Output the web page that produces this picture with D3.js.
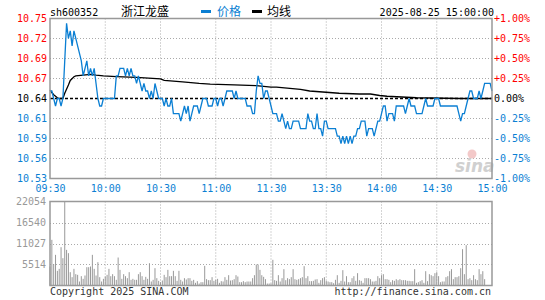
<!DOCTYPE html>
<meta charset="utf-8">
<head>
<title>sh600352 浙江龙盛</title>
</head>
<style>
body { margin: 0; background: #fff; }
text { font-family: "DejaVu Sans Mono", monospace; font-size: 10px; }
.cjk { font-family: "Noto Sans CJK SC", sans-serif; font-size: 12px; }
</style>
<body>

<svg id="chart" width="545" height="300"></svg>

<script src="https://d3js.org/d3.v7.min.js"></script>
<script>
var prevClose = 10.64

// x axis labels (minute index from 09:30)
var timeLabels = ["09:30", "10:00", "10:30", "11:00", "11:30", "13:30", "14:00", "14:30", "15:00"]
var timeMinutes = [0, 30, 60, 90, 120, 150, 180, 210, 240]

// price axis labels, left and right
var pctValues = [1, 0.75, 0.5, 0.25, 0, -0.25, -0.5, -0.75, -1]
var priceLabels = ["10.75", "10.72", "10.69", "10.67", "10.64", "10.61", "10.59", "10.56", "10.53"]
var pctLabels = ["+1.00%", "+0.75%", "+0.50%", "+0.25%", "0.00%", "-0.25%", "-0.50%", "-0.75%", "-1.00%"]

// volume axis
var volMax = 22054
var volTicks = [22054, 16540, 11027, 5514]

// minute prices 09:30 .. 11:30, 13:01 .. 15:00
var price = [
  10.65, 10.65, 10.64, 10.63, 10.64, 10.64, 10.63, 10.64, 10.69, 10.74,
  10.72, 10.73, 10.71, 10.73, 10.72, 10.71, 10.70, 10.69, 10.67, 10.68,
  10.69, 10.67, 10.68, 10.67, 10.68, 10.66, 10.64, 10.63, 10.63, 10.64,
  10.64, 10.64, 10.64, 10.64, 10.64, 10.64, 10.67, 10.67, 10.68, 10.68,
  10.68, 10.67, 10.68, 10.67, 10.68, 10.67, 10.67, 10.66, 10.67, 10.66,
  10.65, 10.66, 10.65, 10.65, 10.64, 10.65, 10.64, 10.66, 10.65, 10.64,
  10.64, 10.64, 10.63, 10.64, 10.63, 10.63, 10.64, 10.62, 10.62, 10.62,
  10.62, 10.61, 10.62, 10.63, 10.62, 10.63, 10.61, 10.62, 10.63, 10.63,
  10.63, 10.62, 10.63, 10.64, 10.64, 10.64, 10.63, 10.63, 10.63, 10.64,
  10.64, 10.63, 10.64, 10.64, 10.63, 10.64, 10.65, 10.65, 10.65, 10.65,
  10.64, 10.65, 10.64, 10.64, 10.64, 10.64, 10.64, 10.63, 10.63, 10.63,
  10.62, 10.62, 10.65, 10.67, 10.66, 10.66, 10.64, 10.65, 10.65, 10.64,
  10.63, 10.62, 10.62, 10.62, 10.61, 10.61, 10.62, 10.61, 10.60, 10.61,
  10.60, 10.60, 10.61, 10.61, 10.61, 10.61, 10.60, 10.60, 10.60, 10.60,
  10.62, 10.61, 10.61, 10.60, 10.60, 10.62, 10.60, 10.60, 10.59, 10.61,
  10.61, 10.60, 10.60, 10.60, 10.60, 10.60, 10.59, 10.59, 10.58, 10.59,
  10.58, 10.59, 10.58, 10.59, 10.58, 10.59, 10.59, 10.60, 10.60, 10.61,
  10.61, 10.61, 10.59, 10.60, 10.60, 10.60, 10.59, 10.60, 10.61, 10.61,
  10.62, 10.63, 10.63, 10.61, 10.62, 10.62, 10.62, 10.61, 10.63, 10.63,
  10.63, 10.63, 10.63, 10.62, 10.63, 10.64, 10.63, 10.63, 10.63, 10.62,
  10.62, 10.62, 10.62, 10.63, 10.64, 10.63, 10.63, 10.63, 10.63, 10.64,
  10.64, 10.64, 10.63, 10.63, 10.63, 10.63, 10.63, 10.63, 10.63, 10.63,
  10.63, 10.63, 10.62, 10.61, 10.62, 10.62, 10.63, 10.64, 10.65, 10.65,
  10.64, 10.64, 10.64, 10.65, 10.64, 10.65, 10.66, 10.66, 10.66, 10.66,
  10.65
]

// average price line, read at these minutes
var avgMinutes = [0, 2, 4, 5, 7, 8, 10, 11, 13, 14, 18, 22, 25, 29, 36, 47, 60, 62, 72, 81,
  87, 100, 112, 120, 123, 136, 141, 157, 168, 174, 179, 183, 199, 223, 240]
var avgPrice = [10.651, 10.645, 10.641, 10.640, 10.640, 10.647, 10.658, 10.664, 10.669, 10.670,
  10.671, 10.672, 10.671, 10.670, 10.669, 10.668, 10.666, 10.664, 10.662, 10.660,
  10.659, 10.658, 10.657, 10.655, 10.655, 10.652, 10.650, 10.647, 10.646, 10.646,
  10.644, 10.643, 10.641, 10.640, 10.640]

// minute volumes
var volume = [
  4990, 11990, 5600, 8050, 3850, 4375, 10060, 7175, 22054, 9360,
  8490, 3500, 2190, 4375, 2975, 2800, 1050, 2450, 1750, 2625,
  4810, 4810, 4990, 8050, 4375, 2625, 6125, 2190, 1050, 1750,
  2360, 2800, 4375, 2450, 2975, 2450, 1490, 7350, 4110, 1750,
  2975, 2450, 1925, 3500, 1490, 1750, 1490, 1490, 2975, 3500,
  2450, 1490, 2275, 1750, 5860, 1050, 1490, 4550, 1925, 1225,
  875, 1310, 2800, 2190, 4110, 2450, 2450, 3850, 2450, 1225,
  3850, 1490, 1050, 1925, 1575, 1925, 1925, 1225, 1490, 700,
  1140,
  525, 875, 875, 5160, 1660, 1400, 1400, 2190, 1225, 1490,
  1750, 700, 1140, 1050, 2190, 1490, 2710, 1310, 1400, 1660,
  2710, 2360, 875, 875, 1140, 875, 1050, 1050, 1050, 1925,
  2710, 5510, 5510, 4110, 2710, 2275, 1660, 525, 525, 525,
  6740, 1400, 1225, 2710, 1050, 1925, 4290, 1400, 1925, 1660,
  2190, 4290, 1660, 1490, 1660, 1925, 2190, 5075, 1925, 2450,
  1140, 1140, 1225, 1575, 1660, 700, 1400, 1925, 2190, 1225,
  1050, 875, 875, 610, 1490, 2710, 700, 1225, 4025, 1050,
  2450, 875, 875, 1925, 2450, 1225, 3240, 1400, 1225, 700,
  1925, 1925, 1925, 1660, 1050, 1050, 1225, 2450, 1925, 2710,
  2975, 1660, 1660, 1490, 875, 1400, 1225, 1660, 1400, 1660,
  1400, 1400, 1400, 1225, 1225, 1140, 1140, 4290, 700, 875,
  1140, 1400, 700, 3760, 1140, 2975, 2710, 2450, 3240, 3500,
  2450, 875, 1050, 1050, 2190, 2450, 3760, 4290, 1660, 2190,
  2190, 2450, 4550, 9540, 2975, 10590, 1660, 1925, 1400, 2710,
  1660, 1400, 4290, 2975, 3760, 1660, 0, 0, 0, 0
]

var red = "#ff0000", blue = "#0b7fd3", gray = "#999", grid = "#aaa"

var pLeft = 50, pRight = 492
var pTop = 18.5, pBottom = 178.5
var vTop = 201.5, vBottom = 285.5

var svg = d3.select("#chart")

var x = d3.scaleLinear().domain([0, 240]).range([pLeft, pRight])
var yPct = d3.scaleLinear().domain([-1, 1]).range([pBottom, pTop])
var yPrice = d3.scaleLinear().domain([prevClose * 0.99, prevClose * 1.01]).range([pBottom, pTop])
var yVol = d3.scaleLinear().domain([0, volMax]).range([vBottom, vTop])

function colorFor(v) {
  return v > 0 ? red : (v < 0 ? blue : "#000")
}

// ---------- header ----------
svg.append("text").attr("x", 50).attr("y", 15.5).text("sh600352")
svg.append("text").attr("class", "cjk").attr("x", 121).attr("y", 16).text("浙江龙盛")
svg.append("rect").attr("x", 201).attr("y", 10).attr("width", 10).attr("height", 3).attr("fill", blue)
svg.append("text").attr("class", "cjk").attr("x", 217).attr("y", 16).attr("fill", blue).text("价格")
svg.append("rect").attr("x", 252).attr("y", 10).attr("width", 10).attr("height", 3).attr("fill", "#000")
svg.append("text").attr("class", "cjk").attr("x", 267).attr("y", 16).text("均线")
svg.append("text").attr("x", 494).attr("y", 15.5).attr("text-anchor", "end").text("2025-08-25 15:00:00")

// ---------- price panel grid ----------
var gGrid = svg.append("g")
gGrid.selectAll(".hg").data(pctValues.filter(function(d) { return d != 0 && Math.abs(d) != 1 }))
  .enter().append("line")
  .attr("x1", pLeft).attr("x2", pRight)
  .attr("y1", function(d) { return yPct(d) }).attr("y2", function(d) { return yPct(d) })
  .attr("stroke", grid).attr("stroke-dasharray", "1,2")
gGrid.selectAll(".vg").data(timeMinutes.slice(1, -1))
  .enter().append("line")
  .attr("x1", function(d) { return x(d) }).attr("x2", function(d) { return x(d) })
  .attr("y1", pTop).attr("y2", pBottom)
  .attr("stroke", grid).attr("stroke-dasharray", "1,2")

// watermark
svg.append("circle").attr("cx", 472).attr("cy", 154).attr("r", 4.5).attr("fill", "#f3c9c9")
svg.append("text").attr("x", 455).attr("y", 172)
  .style("font-family", "DejaVu Sans").style("font-size", "17px")
  .style("font-weight", "bold").style("font-style", "italic")
  .attr("fill", "#d0d0d0").text("sina")

// prev close dashed line
svg.append("line")
  .attr("x1", pLeft).attr("x2", pRight)
  .attr("y1", yPct(0)).attr("y2", yPct(0))
  .attr("stroke", "#000").attr("stroke-width", 1.3).attr("stroke-dasharray", "3,2")

// avg line
var avgPts = avgMinutes.map(function(m, i) { return [m, avgPrice[i]] })
svg.append("path").datum(avgPts)
  .attr("fill", "none").attr("stroke", "#000").attr("stroke-width", 1.3)
  .attr("d", d3.line().x(function(d) { return x(d[0]) }).y(function(d) { return yPrice(d[1]) }))

// price line
svg.append("path").datum(price)
  .attr("fill", "none").attr("stroke", blue).attr("stroke-width", 1.3)
  .attr("d", d3.line().x(function(d, i) { return x(i) }).y(function(d) { return yPrice(d) }))

// border
svg.append("rect").attr("x", pLeft).attr("y", pTop).attr("width", pRight - pLeft).attr("height", pBottom - pTop)
  .attr("fill", "none").attr("stroke", gray).attr("stroke-width", 1.5)

// left / right axes
var axL = svg.append("g").attr("transform", "translate(" + pLeft + ",0)")
  .call(d3.axisLeft(yPct).tickValues(pctValues).tickSize(0).tickPadding(3)
    .tickFormat(function(d, i) { return priceLabels[i] }))
var axR = svg.append("g").attr("transform", "translate(" + pRight + ",0)")
  .call(d3.axisRight(yPct).tickValues(pctValues).tickSize(0).tickPadding(2)
    .tickFormat(function(d, i) { return pctLabels[i] }))
;[axL, axR].forEach(function(ax) {
  ax.select(".domain").remove()
  ax.selectAll("text").attr("fill", function(d) { return colorFor(d) })
    .style("font-family", "DejaVu Sans Mono").style("font-size", "10px")
})

// time axis
var axT = svg.append("g").attr("transform", "translate(0," + pBottom + ")")
  .call(d3.axisBottom(x).tickValues(timeMinutes).tickSize(0).tickPadding(6)
    .tickFormat(function(d, i) { return timeLabels[i] }))
axT.select(".domain").remove()
axT.selectAll("text").attr("fill", blue)
  .style("font-family", "DejaVu Sans Mono").style("font-size", "10px")

// ---------- volume panel ----------
var gv = svg.append("g")
gv.selectAll(".vh").data(volTicks.slice(1))
  .enter().append("line")
  .attr("x1", pLeft).attr("x2", pRight)
  .attr("y1", function(d) { return Math.round(yVol(d)) + 0.5 }).attr("y2", function(d) { return Math.round(yVol(d)) + 0.5 })
  .attr("stroke", grid).attr("stroke-dasharray", "1,2")
gv.selectAll(".vv").data(timeMinutes.slice(1, -1))
  .enter().append("line")
  .attr("x1", function(d) { return x(d) }).attr("x2", function(d) { return x(d) })
  .attr("y1", vTop).attr("y2", vBottom)
  .attr("stroke", grid).attr("stroke-dasharray", "1,2")

gv.selectAll(".bar").data(volume)
  .enter().append("rect")
  .attr("x", function(d, i) { return x(i) - 0.5 })
  .attr("width", 1)
  .attr("y", function(d) { return yVol(d) })
  .attr("height", function(d) { return vBottom - yVol(d) })
  .attr("fill", gray)

svg.append("rect").attr("x", pLeft).attr("y", vTop).attr("width", pRight - pLeft).attr("height", vBottom - vTop)
  .attr("fill", "none").attr("stroke", gray).attr("stroke-width", 1.5)

var axV = svg.append("g").attr("transform", "translate(" + pLeft + ",0)")
  .call(d3.axisLeft(yVol).tickValues(volTicks).tickSize(0).tickPadding(4).tickFormat(d3.format("d")))
axV.select(".domain").remove()
axV.selectAll("text").attr("fill", gray)
  .style("font-family", "DejaVu Sans Mono").style("font-size", "10px")

// footer
svg.append("text").attr("x", 50).attr("y", 295).attr("fill", "#333").text("Copyright 2025 SINA.COM")
svg.append("text").attr("x", 491).attr("y", 295).attr("text-anchor", "end").attr("fill", "#333").text("http://finance.sina.com.cn")
</script>

</body>
</html>
